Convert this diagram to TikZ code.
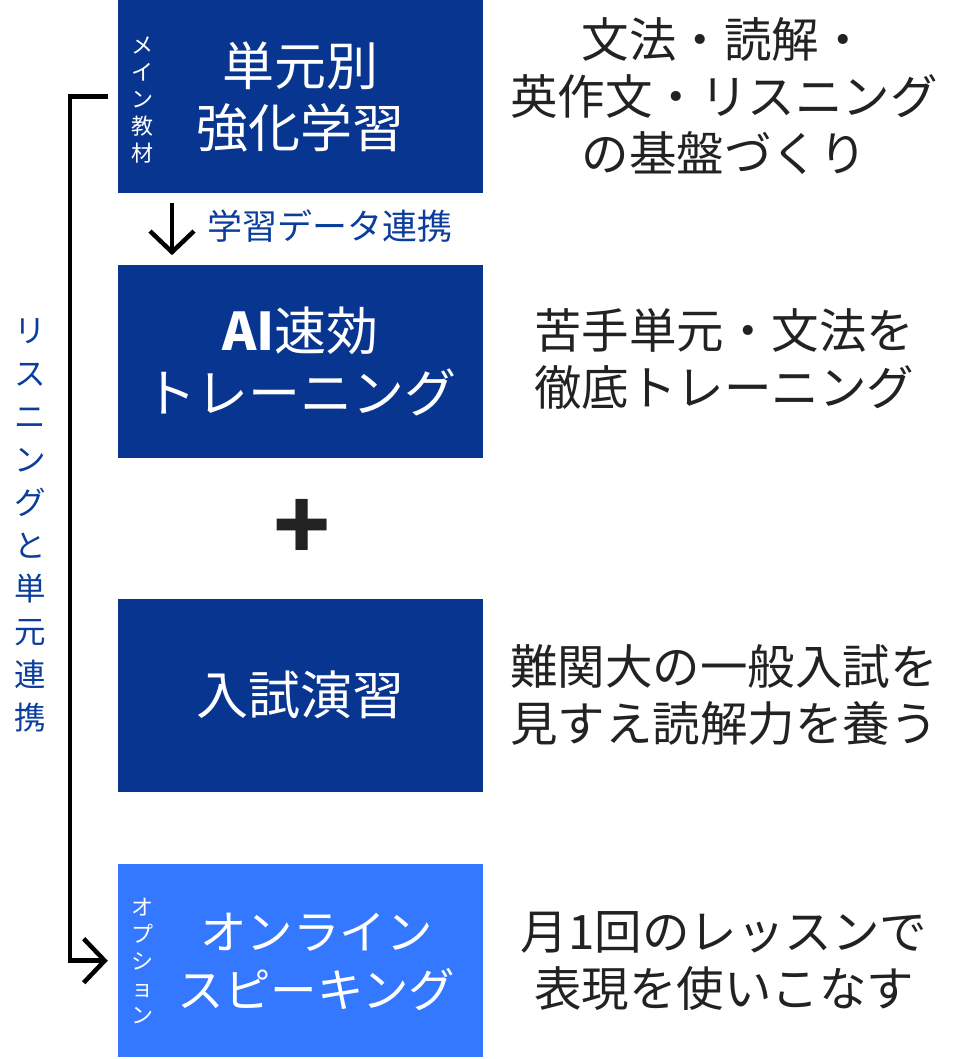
\documentclass[tikz,border=0pt]{standalone}
\usepackage{fontspec}
\setmainfont{Noto Sans CJK JP}
\usetikzlibrary{arrows.meta, positioning, calc}
\definecolor{navy}{HTML}{07358F}
\definecolor{skyblue}{HTML}{3478FF}
\definecolor{linkblue}{HTML}{0B3E9C}
\definecolor{ink}{HTML}{222222}
\tikzset{
  course/.style    = {rectangle, fill=navy, text=white, minimum width=365pt,
                      minimum height=193pt, align=center, inner sep=0pt,
                      font=\fontsize{52}{62}\selectfont},
  option/.style    = {course, fill=skyblue},
  optiontext/.style= {align=center, text=white, inner sep=0pt,
                      font=\fontsize{46.5}{58}\selectfont},
  desc/.style      = {align=center, text=ink, inner sep=0pt,
                      font=\fontsize{47.5}{57}\selectfont},
  tag/.style       = {align=center, text=white, inner sep=0pt,
                      font=\fontsize{22}{27}\selectfont},
  sidelabel/.style = {align=center, text=linkblue, inner sep=0pt,
                      font=\fontsize{31.5}{43}\selectfont},
  link/.style      = {-{Straight Barb[length=21pt, width=44pt]}, line width=4.5pt, draw=black},
}

\begin{document}
\begin{tikzpicture}[x=1pt, y=-1pt, node distance=72pt]
  \useasboundingbox (0,0) rectangle (973,1059);

  % course boxes
  \node[course] (unit) at (300.5,96.5) {単元別\\強化学習};
  \node[course, below=of unit] (ai) {{\bfseries AI}速効\\トレーニング};
  \node[course, below=140pt of ai] (exam) {入試演習};
  \node[option, below=of exam] (speak) {};
  \node[optiontext] (speaklabel) at ([xshift=16pt, yshift=-1pt]speak.center) {オンライン\\スピーキング};

  % small tags inside the boxes
  \node[tag] (maintag) at ([xshift=25pt, yshift=-4pt]unit.west) {メ\\イ\\ン\\教\\材};
  \node[tag] (opttag) at ([xshift=25pt]speak.west) {オ\\プ\\シ\\ョ\\ン};

  % descriptions
  \coordinate (descx) at (724,0);
  \node[desc] (unitdesc) at (unit -| descx) {文法・読解・\\英作文・リスニング\\の基盤づくり};
  \node[desc] (aidesc) at ([yshift=3pt]ai -| descx) {苦手単元・文法を\\徹底トレーニング};
  \node[desc] (examdesc) at (exam -| descx) {難関大の一般入試を\\見すえ読解力を養う};
  \node[desc] (speakdesc) at (speak -| descx) {月1回のレッスンで\\表現を使いこなす};

  % plus
  \node[font=\fontsize{94}{94}\selectfont\bfseries, text=ink] (plus)
    at ([xshift=2pt, yshift=-1pt]$(ai.south)!0.5!(exam.north)$) {+};

  % data link
  \draw[link] ([xshift=-128.5pt, yshift=-10pt]unit.south) -- ([xshift=-128.5pt, yshift=10pt]ai.north);
  \node[text=linkblue, font=\fontsize{35}{40}\selectfont, anchor=west] (datalabel)
    at ([xshift=-97pt, yshift=-33pt]unit.south) {学習データ連携};

  % listening link
  \draw[link] ([xshift=-10pt]unit.west) -- ++(-38,0) |- ([xshift=-10pt]speak.west);
  \node[sidelabel] (listenlabel) at (30,525) {リ\\ス\\ニ\\ン\\グ\\と\\単\\元\\連\\携};
\end{tikzpicture}
\end{document}
